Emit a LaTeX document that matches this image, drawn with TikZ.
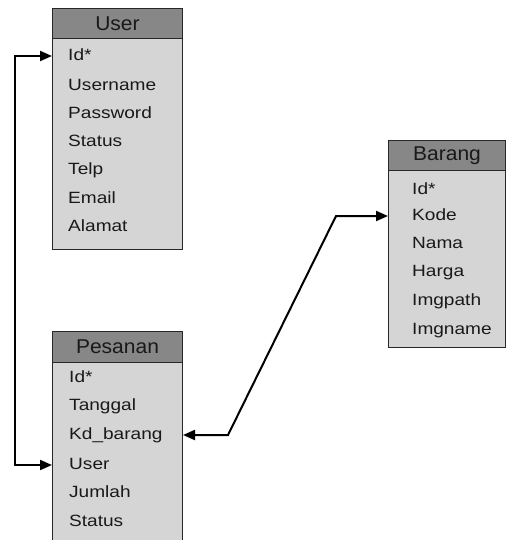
\documentclass[tikz,border=0pt]{standalone}
\usepackage{fontspec}
\setmainfont{Liberation Sans}
\newfontfamily\rowfont[FakeStretch=1.17]{Liberation Sans}
\newfontfamily\hdrfont[FakeStretch=1.05]{Liberation Sans}
\usetikzlibrary{arrows.meta}
\definecolor{hdrgray}{RGB}{135,135,135}
\definecolor{bodygray}{RGB}{213,213,213}
\definecolor{boxline}{RGB}{40,40,40}
\definecolor{textc}{RGB}{25,25,25}
\begin{document}
\begin{tikzpicture}[x=1pt,y=-1pt,
  hdr/.style={draw=boxline, fill=hdrgray, line width=1pt, anchor=north west, inner sep=0pt,
    text=textc, font=\hdrfont\fontsize{20}{20}\selectfont},
  tbody/.style={draw=boxline, fill=bodygray, line width=1pt, anchor=north west, inner sep=0pt},
  row/.style={anchor=west, inner sep=0pt, text height=11.5pt, text depth=3pt,
    text=textc, font=\rowfont\fontsize{16.3}{16.3}\selectfont},
  conn/.style={line width=2pt, black, {Triangle[length=12pt,width=10pt]}-{Triangle[length=12pt,width=10pt]}}
]
\useasboundingbox (0,0) rectangle (508,540);
\fill[white] (0,0) rectangle (508,540);

% User table
\node[tbody, minimum width=130pt, minimum height=211pt] (ubody) at (52,38) {};
\node[hdr, minimum width=130pt, minimum height=30pt] (uhead) at (52,8) {User};
\node[row] (uid)   at (68,56)  {Id*};
\node[row] (uuser) at (68,86)  {Username};
\node[row] (upass) at (68,114) {Password};
\node[row] (ustat) at (68,142) {Status};
\node[row] (utelp) at (68,170) {Telp};
\node[row] (umail) at (68,199) {Email};
\node[row] (ualam) at (68,227) {Alamat};

% Pesanan table
\node[tbody, minimum width=130pt, minimum height=185pt] (pbody) at (52,362) {};
\node[hdr, minimum width=130pt, minimum height=31pt] (phead) at (52,331) {Pesanan};
\node[row] (pid)   at (69,378) {Id*};
\node[row] (ptgl)  at (69,406) {Tanggal};
\node[row] (pkd)   at (69,435) {Kd\_barang};
\node[row] (puser) at (69,465) {User};
\node[row] (pjml)  at (69,493) {Jumlah};
\node[row] (pstat) at (69,522) {Status};

% Barang table
\node[tbody, minimum width=117pt, minimum height=177pt] (bbody) at (388,170) {};
\node[hdr, minimum width=117pt, minimum height=30pt] (bhead) at (388,140) {Barang};
\node[row] (bid)   at (412,190) {Id*};
\node[row] (bkode) at (412,216) {Kode};
\node[row] (bnama) at (412,244) {Nama};
\node[row] (bharg) at (412,272) {Harga};
\node[row] (bpath) at (412,301) {Imgpath};
\node[row] (bname) at (412,330) {Imgname};

% connectors
\coordinate (lx) at (15,0);
\draw[conn] (ubody.west |- uid) -- (lx |- uid) -- (lx |- puser) -- (pbody.west |- puser);

\coordinate (k1) at (228,0);
\coordinate (k2) at (336,0);
\draw[conn] (pbody.east |- pkd) -- (k1 |- pkd) -- (k2 |- bkode) -- (bbody.west |- bkode);
\end{tikzpicture}
\end{document}
